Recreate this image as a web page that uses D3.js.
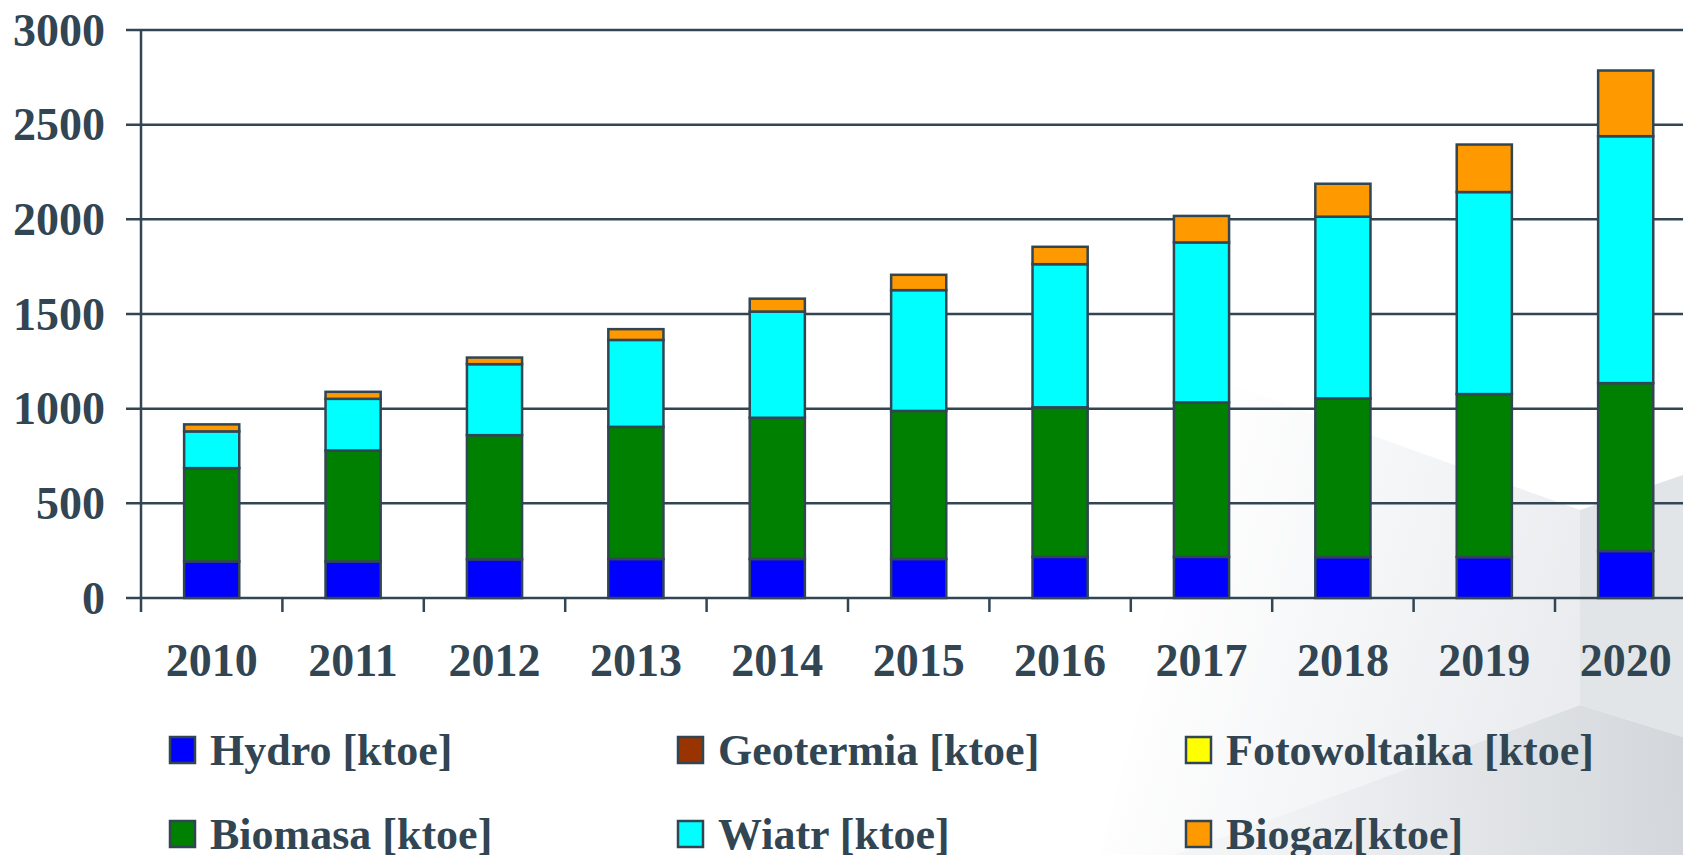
<!DOCTYPE html>
<html>
<head>
<meta charset="utf-8">
<script src="https://cdn.jsdelivr.net/npm/d3@7"></script>
<style>
    html, body { margin: 0; padding: 0; background: #ffffff; }
    svg { display: block; }
    text { font-family: "Liberation Serif", "Times New Roman", serif; font-weight: bold; fill: #314553; }
</style>
</head>
<body>
<div id="chart"></div>
<script>
// Data (ktoe)
var years = ['2010', '2011', '2012', '2013', '2014', '2015', '2016', '2017', '2018', '2019', '2020'];
var hydro = [193, 193, 204, 206, 206, 206, 217, 217, 216, 216, 248];
var geotermia = [0, 0, 0, 0, 0, 0, 0, 0, 0, 0, 0];
var fotowoltaika = [0, 0, 0, 0, 0, 0, 0, 0, 0, 0, 0];
var biomasa = [493, 586, 656, 698, 746, 782, 790, 816, 838, 861, 887];
var wiatr = [194, 273, 375, 459, 561, 638, 756, 845, 960, 1067, 1304];
var biogaz = [37, 37, 35, 57, 68, 81, 92, 140, 174, 251, 347];
var yTicks = [0, 500, 1000, 1500, 2000, 2500, 3000];

var seriesNames = ['Hydro [ktoe]', 'Geotermia [ktoe]', 'Fotowoltaika [ktoe]',
    'Biomasa [ktoe]', 'Wiatr [ktoe]', 'Biogaz[ktoe]'];
var seriesKeys = ['hydro', 'geotermia', 'fotowoltaika', 'biomasa', 'wiatr', 'biogaz'];
var seriesColors = ['#0000ff', '#993300', '#ffff00', '#008000', '#00ffff', '#ff9900'];

(function(d3) {
    'use strict';

    var width = 1683,
        height = 855,
        ink = '#314553';

    // Plot area, the right edge runs past the picture
    var left = 141,
        step = 141.4,
        right = left + step * years.length,
        top = 30,
        bottom = 598;

    var rows = years.map(function(year, i) {
        return {
            year: year,
            hydro: hydro[i],
            geotermia: geotermia[i],
            fotowoltaika: fotowoltaika[i],
            biomasa: biomasa[i],
            wiatr: wiatr[i],
            biogaz: biogaz[i]
        };
    });

    var x = d3.scaleBand()
        .domain(years)
        .range([left, right])
        .paddingInner(0.61)
        .paddingOuter(0.305);

    var y = d3.scaleLinear()
        .domain([0, 3000])
        .range([bottom, top]);

    var svg = d3.select('#chart').append('svg')
        .attr('width', width)
        .attr('height', height);

    // Faint slide background facets, lower right
    var defs = svg.append('defs');
    var fade = defs.append('linearGradient')
        .attr('id', 'fade')
        .attr('gradientUnits', 'userSpaceOnUse')
        .attr('x1', 1180).attr('y1', 500).attr('x2', 1580).attr('y2', 620);
    fade.append('stop').attr('offset', '0').attr('stop-color', '#ffffff');
    fade.append('stop').attr('offset', '1').attr('stop-color', '#eaecef');
    var fadeDark = defs.append('linearGradient')
        .attr('id', 'fadeDark')
        .attr('gradientUnits', 'userSpaceOnUse')
        .attr('x1', 1250).attr('y1', 800).attr('x2', 1683).attr('y2', 780);
    fadeDark.append('stop').attr('offset', '0').attr('stop-color', '#f3f4f6');
    fadeDark.append('stop').attr('offset', '1').attr('stop-color', '#d3d7db');

    var facets = svg.append('g').attr('class', 'background');
    facets.append('path')
        .attr('d', 'M1226,383 L1580,510 L1580,705 L1174,855 L1100,855 Z')
        .attr('fill', 'url(#fade)');
    facets.append('path')
        .attr('d', 'M1580,510 L1683,475 L1683,737 L1580,705 Z')
        .attr('fill', '#e2e5e8');
    facets.append('path')
        .attr('d', 'M1174,855 L1580,705 L1683,737 L1683,855 Z')
        .attr('fill', 'url(#fadeDark)');

    // Horizontal grid lines, including the outward tick on the left
    svg.append('g')
        .attr('class', 'grid')
        .selectAll('line')
        .data(yTicks)
        .enter().append('line')
        .attr('x1', left - 15)
        .attr('x2', width)
        .attr('y1', function(d) { return y(d); })
        .attr('y2', function(d) { return y(d); })
        .attr('stroke', ink)
        .attr('stroke-width', 2.5);

    // Y axis line
    svg.append('line')
        .attr('x1', left).attr('x2', left)
        .attr('y1', top).attr('y2', bottom + 14)
        .attr('stroke', ink)
        .attr('stroke-width', 2.5);

    // X ticks between the categories
    var boundaries = years.map(function(d) { return x(d) - x.step() * x.paddingOuter(); });
    svg.append('g')
        .attr('class', 'x ticks')
        .selectAll('line')
        .data(boundaries.slice(1))
        .enter().append('line')
        .attr('x1', function(d) { return d; })
        .attr('x2', function(d) { return d; })
        .attr('y1', bottom)
        .attr('y2', bottom + 14)
        .attr('stroke', ink)
        .attr('stroke-width', 2.5);

    // Stacked bars
    var stack = d3.stack().keys(seriesKeys);
    var layers = stack(rows);

    svg.append('g')
        .attr('class', 'bars')
        .selectAll('g')
        .data(layers)
        .enter().append('g')
        .attr('fill', function(d, i) { return seriesColors[i]; })
        .selectAll('rect')
        .data(function(d) { return d.filter(function(p) { return p[1] - p[0] > 0; }); })
        .enter().append('rect')
        .attr('x', function(d) { return x(d.data.year); })
        .attr('width', x.bandwidth())
        .attr('y', function(d) { return y(d[1]); })
        .attr('height', function(d) { return y(d[0]) - y(d[1]); })
        .attr('stroke', ink)
        .attr('stroke-width', 2.5);

    // Y tick labels
    svg.append('g')
        .attr('class', 'y labels')
        .selectAll('text')
        .data(yTicks)
        .enter().append('text')
        .attr('x', 105)
        .attr('y', function(d) { return y(d); })
        .attr('dy', '0.34em')
        .attr('text-anchor', 'end')
        .style('font-size', '46px')
        .text(function(d) { return d; });

    // X category labels
    svg.append('g')
        .attr('class', 'x labels')
        .selectAll('text')
        .data(years)
        .enter().append('text')
        .attr('x', function(d) { return x(d) + x.bandwidth() / 2; })
        .attr('y', 676)
        .attr('text-anchor', 'middle')
        .style('font-size', '46px')
        .text(function(d) { return d; });

    // Legend, three columns by two rows
    var legendX = [170, 678, 1186],
        legendY = [737, 821];

    var legend = svg.append('g')
        .attr('class', 'legend')
        .selectAll('g')
        .data(seriesNames)
        .enter().append('g')
        .attr('transform', function(d, i) {
            return 'translate(' + legendX[i % 3] + ',' + legendY[Math.floor(i / 3)] + ')';
        });

    legend.append('rect')
        .attr('width', 25)
        .attr('height', 26)
        .attr('fill', function(d, i) { return seriesColors[i]; })
        .attr('stroke', ink)
        .attr('stroke-width', 2.5);

    legend.append('text')
        .attr('x', 40)
        .attr('y', 12)
        .attr('dy', '0.36em')
        .style('font-size', '44px')
        .text(function(d) { return d; });
}(d3));
</script>
</body>
</html>
